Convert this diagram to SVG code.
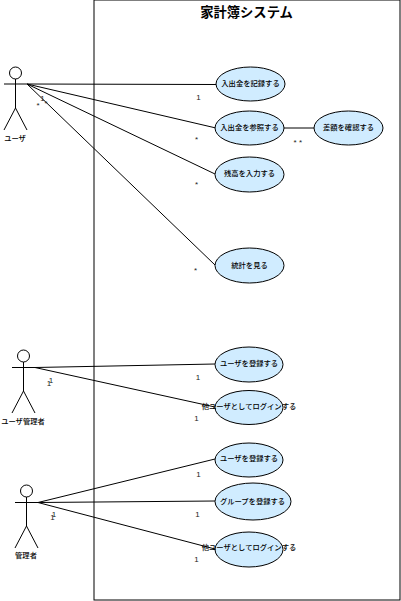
<svg xmlns="http://www.w3.org/2000/svg" width="401" height="601" viewBox="0 0 401 601">
<style>
text{font-family:"Noto Sans CJK JP","Liberation Sans",sans-serif;font-size:7.3px;font-weight:500;fill:#000;text-anchor:middle}
.t{font-size:13.3px;font-weight:700}
.m{font-family:"Liberation Sans",sans-serif;font-size:8px;font-weight:400;fill:#222}
.u{fill:#d0ecff;stroke:#000;stroke-width:1}
.a{fill:#fff;stroke:#000;stroke-width:1}
.l{fill:none;stroke:#000;stroke-width:1}
</style>
<rect width="401" height="601" fill="#fff"/>
<g id="system"><rect x="94" y="0" width="306" height="600" fill="#fff" stroke="#000"/><text class="t" x="246.500" y="17">家計簿システム</text></g>
<g id="connectors" class="l">
<path d="M27 84L216 84.500"/><path d="M27 84L216 128"/><path d="M27 84L215 174"/><path d="M27 84L215 265"/>
<path d="M284 128H314"/>
<path d="M35 367.500L215 364"/><path d="M35 367.500L215 407"/>
<path d="M38 502.500L215 459"/><path d="M38 502.500L215 501"/><path d="M38 502.500L215 549"/>
</g>
<g id="actor-user"><circle class="a" cx="15.500" cy="73" r="6"/><path class="l" d="M4 84H27M15.500 79V108M4 130L15.500 108L27 130"/><text x="15" y="141">ユーザ</text></g>
<g id="actor-user-admin"><circle class="a" cx="23.500" cy="356" r="6"/><path class="l" d="M12 367.500H35M23.500 362V391M12 413L23.500 391L35 413"/><text x="23" y="424">ユーザ管理者</text></g>
<g id="actor-admin"><circle class="a" cx="26.500" cy="491" r="6"/><path class="l" d="M15 502.500H38M26.500 497V526M15 548L26.500 526L38 548"/><text x="26" y="558">管理者</text></g>
<g id="uc1"><ellipse class="u" cx="250.500" cy="84" rx="34.500" ry="17"/><text x="250.500" y="86">入出金を記録する</text></g>
<g id="uc2"><ellipse class="u" cx="249.500" cy="128" rx="34.500" ry="17"/><text x="249.500" y="130">入出金を参照する</text></g>
<g id="uc3"><ellipse class="u" cx="348.500" cy="128" rx="34.500" ry="17"/><text x="348.500" y="130">差額を確認する</text></g>
<g id="uc4"><ellipse class="u" cx="249.500" cy="174.500" rx="34.500" ry="17.500"/><text x="249.500" y="176">残高を入力する</text></g>
<g id="uc5"><ellipse class="u" cx="249.500" cy="265.500" rx="34.500" ry="17.500"/><text x="249.500" y="267.500">統計を見る</text></g>
<g id="uc6"><ellipse class="u" cx="249" cy="364.500" rx="34" ry="17.500"/><text x="249" y="366">ユーザを登録する</text></g>
<g id="uc7"><ellipse class="u" cx="249" cy="407.500" rx="34" ry="17"/><text x="249" y="409">他ユーザとしてログインする</text></g>
<g id="uc8"><ellipse class="u" cx="249" cy="460" rx="34" ry="17"/><text x="249" y="461">ユーザを登録する</text></g>
<g id="uc9"><ellipse class="u" cx="253" cy="501.500" rx="38" ry="18.500"/><text x="252.500" y="503.500">グループを登録する</text></g>
<g id="uc10"><ellipse class="u" cx="249" cy="549.500" rx="34" ry="17.500"/><text x="249" y="550">他ユーザとしてログインする</text></g>
<g id="multiplicities">
<text class="m" x="198.500" y="100">1</text><text class="m" x="196.500" y="142">*</text><text class="m" x="295" y="145">*</text><text class="m" x="300.500" y="145">*</text><text class="m" x="196.500" y="187">*</text><text class="m" x="195.500" y="273">*</text>
<text class="m" x="42.500" y="101">1</text><text class="m" x="38" y="108">*</text><text class="m" x="46" y="106">*</text>
<text class="m" x="198" y="380">1</text><text class="m" x="196.500" y="421">1</text><text class="m" x="49" y="386">1</text><text class="m" x="51" y="383">1</text>
<text class="m" x="198.500" y="477">1</text><text class="m" x="197.500" y="517">1</text><text class="m" x="196.500" y="562">1</text><text class="m" x="52.500" y="520">1</text><text class="m" x="54" y="517">1</text>
</g>
</svg>
